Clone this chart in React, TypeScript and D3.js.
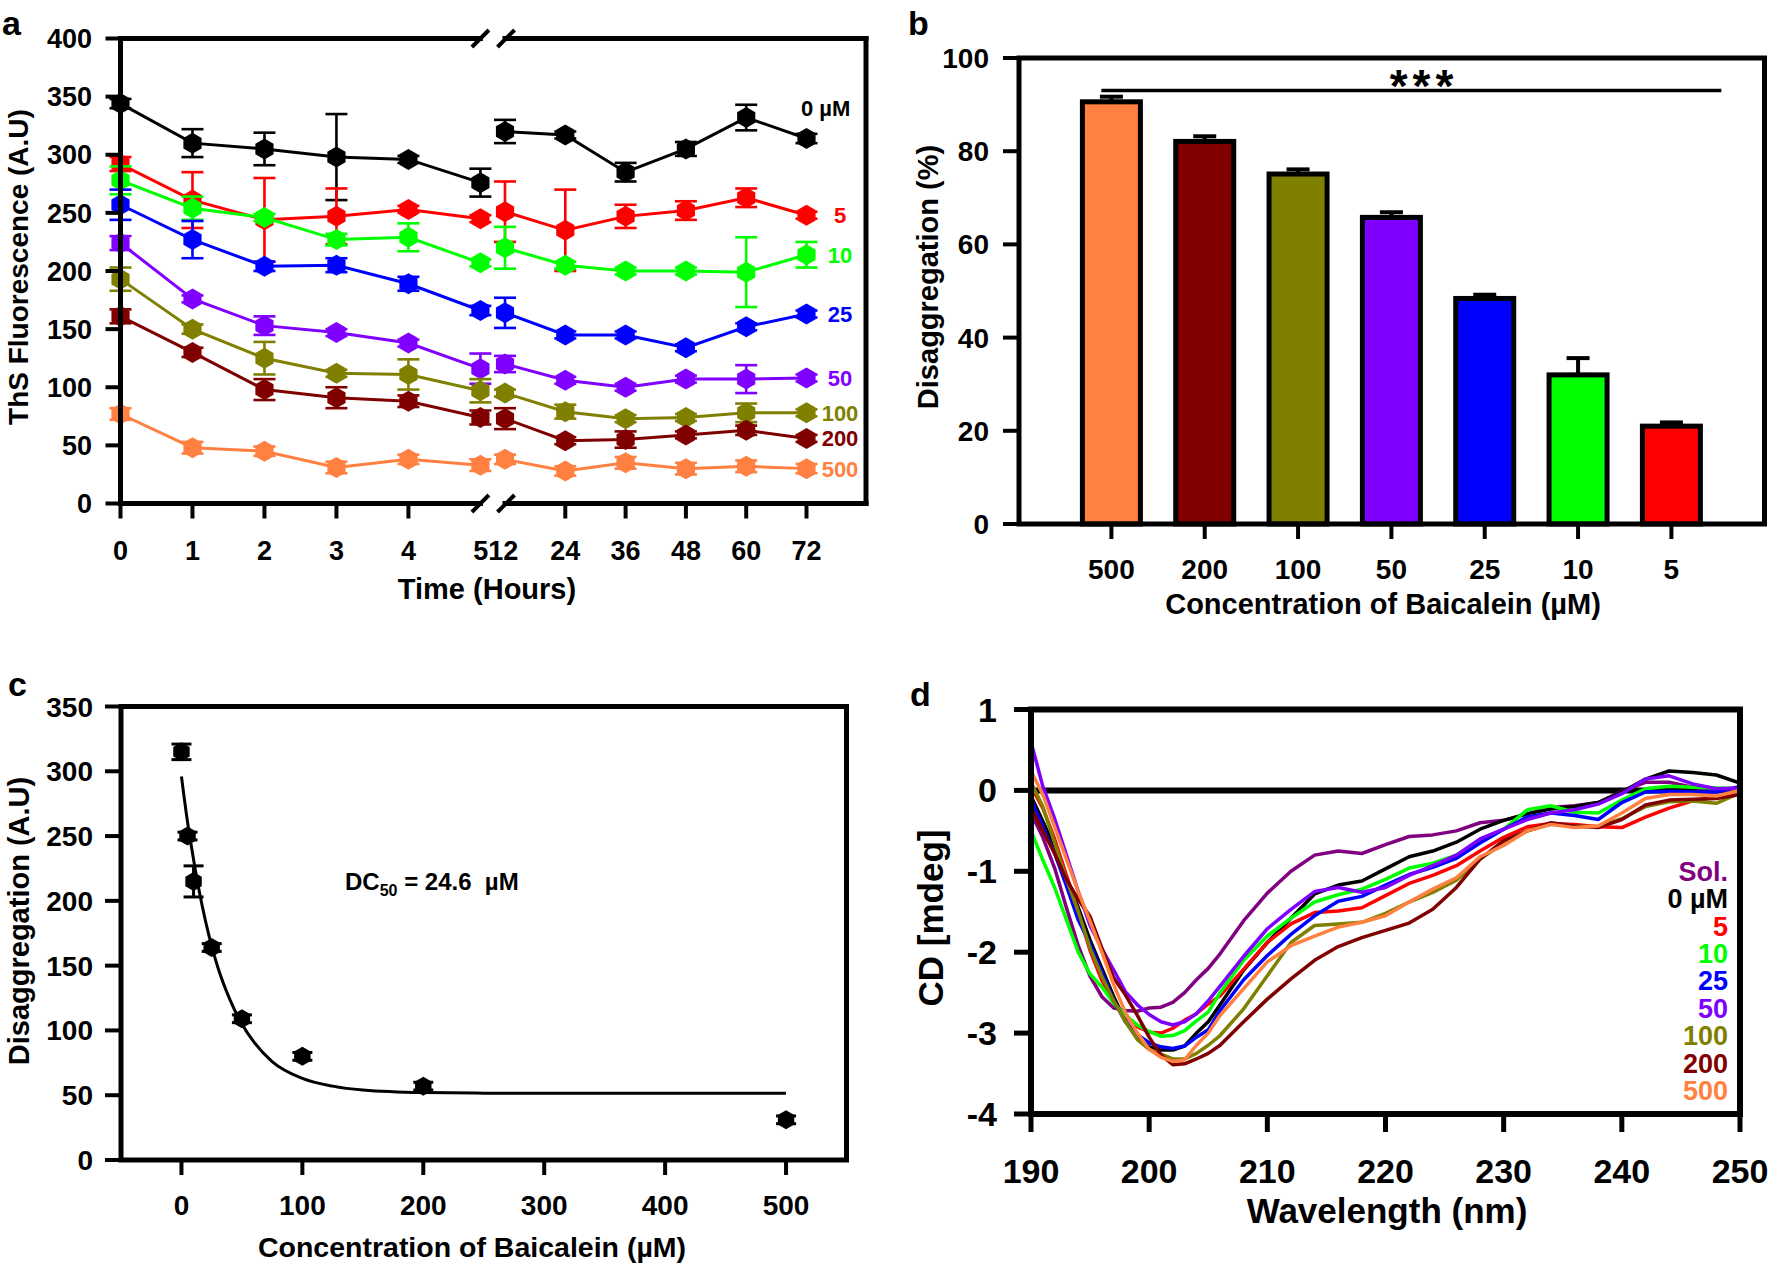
import React from "react";
import * as d3 from "d3";

const FONT = "'Liberation Sans', Arial, Helvetica, sans-serif";

// ---------------- Panel a : ThS fluorescence vs time ----------------
const timeHours = [0, 1, 2, 3, 4, 5, 12, 24, 36, 48, 60, 72];
const timeTickHours = [0, 1, 2, 3, 4, 24, 36, 48, 60, 72];
const fluorTicks = [0, 50, 100, 150, 200, 250, 300, 350, 400];
const concLabelsA = ["0 µM", "5", "10", "25", "50", "100", "200", "500"];
const concColors = ["#000000", "#FF0000", "#00FF00", "#0000FF", "#8000FF", "#808000", "#800000", "#FF8040"];

const ths0 = [344, 310, 305, 298, 296, 276, 320, 317, 285, 305, 332, 314];
const ths0Err = [4, 12, 14, 37, 3, 12, 10, 3, 8, 6, 11, 4];
const ths5 = [292, 261, 244, 247, 253, 245, 251, 235, 247, 252, 263, 248];
const ths5Err = [6, 24, 36, 24, 3, 3, 26, 35, 10, 8, 8, 3];
const ths10 = [278, 254, 246, 227, 229, 207, 220, 205, 200, 200, 199, 214];
const ths10Err = [12, 10, 3, 5, 12, 3, 18, 3, 3, 3, 30, 11];
const ths25 = [257, 227, 204, 205, 189, 166, 164, 145, 145, 134, 152, 163];
const ths25Err = [13, 16, 4, 6, 6, 4, 13, 3, 3, 3, 3, 3];
const ths50 = [224, 176, 153, 147, 138, 116, 120, 106, 100, 107, 107, 108];
const ths50Err = [6, 3, 8, 3, 3, 13, 7, 3, 3, 3, 12, 3];
const ths100 = [193, 150, 125, 112, 111, 97, 95, 79, 73, 74, 78, 78];
const ths100Err = [10, 4, 14, 3, 13, 10, 3, 6, 3, 3, 8, 3];
const ths200 = [161, 130, 98, 91, 88, 74, 73, 54, 55, 59, 63, 56];
const ths200Err = [6, 4, 9, 9, 5, 6, 9, 3, 7, 3, 4, 3];
const ths500 = [77, 48, 45, 31, 38, 33, 38, 28, 35, 30, 32, 30];
const ths500Err = [5, 5, 4, 5, 4, 5, 4, 4, 5, 5, 5, 4];

// ---------------- Panel b : disaggregation bars ----------------
const concB = ["500", "200", "100", "50", "25", "10", "5"];
const disaggPct = [90.6, 82.1, 75.1, 65.8, 48.4, 32.0, 21.0];
const disaggPctErr = [1.1, 1.1, 1.0, 1.1, 0.8, 3.6, 0.8];
const barColors = ["#FF8040", "#800000", "#808000", "#8000FF", "#0000FF", "#00FF00", "#FF0000"];
const pctTicks = [0, 20, 40, 60, 80, 100];

// ---------------- Panel c : dose response ----------------
const concC = [0, 5, 10, 25, 50, 100, 200, 500];
const disaggAU = [315, 250, 215, 164, 109, 80, 57, 31];
const disaggAUErr = [6, 3, 12, 3, 3, 3, 3, 3];
const fitConc = [0, 5, 10, 15, 20, 25, 30, 40, 50, 60, 75, 100, 125, 150, 200, 250, 300, 400, 500];
const fitAU = [296, 261, 232, 206, 184, 165, 149, 124, 105, 91, 76, 63, 57, 54, 52, 51.6, 51.5, 51.5, 51.5];
const concTicksC = [0, 100, 200, 300, 400, 500];
const auTicksC = [0, 50, 100, 150, 200, 250, 300, 350];

// ---------------- Panel d : CD spectra ----------------
const wavelength = [190, 191, 192, 193, 194, 195, 196, 197, 198, 199, 200, 201, 202, 203, 204, 205, 206, 208, 210, 212, 214, 216, 218, 220, 222, 224, 226, 228, 230, 232, 234, 236, 238, 240, 242, 244, 246, 248, 250];
const cdSol = [-0.28, -0.58, -0.96, -1.45, -1.92, -2.30, -2.55, -2.69, -2.72, -2.73, -2.69, -2.68, -2.62, -2.50, -2.34, -2.20, -2.02, -1.61, -1.27, -1.00, -0.80, -0.75, -0.78, -0.67, -0.57, -0.55, -0.50, -0.40, -0.37, -0.29, -0.21, -0.19, -0.15, -0.01, 0.10, 0.10, 0.04, 0.01, 0.00];
const cd0 = [-0.07, -0.38, -0.70, -1.07, -1.45, -1.85, -2.20, -2.55, -2.86, -3.05, -3.17, -3.21, -3.21, -3.16, -3.00, -2.86, -2.65, -2.22, -1.88, -1.58, -1.28, -1.17, -1.12, -0.97, -0.82, -0.75, -0.64, -0.48, -0.37, -0.29, -0.23, -0.20, -0.15, -0.02, 0.14, 0.24, 0.22, 0.19, 0.09];
const cd5 = [0.05, -0.22, -0.60, -1.05, -1.50, -1.98, -2.35, -2.62, -2.80, -2.92, -2.99, -3.00, -2.94, -2.84, -2.76, -2.64, -2.54, -2.21, -1.88, -1.65, -1.51, -1.49, -1.45, -1.30, -1.15, -1.05, -0.93, -0.75, -0.58, -0.45, -0.41, -0.42, -0.45, -0.46, -0.33, -0.22, -0.13, -0.08, -0.03];
const cd10 = [-0.50, -0.86, -1.20, -1.60, -2.00, -2.27, -2.43, -2.63, -2.78, -2.90, -2.98, -3.04, -3.03, -2.97, -2.85, -2.74, -2.50, -2.10, -1.80, -1.58, -1.38, -1.29, -1.22, -1.10, -0.96, -0.90, -0.80, -0.64, -0.48, -0.24, -0.19, -0.27, -0.28, -0.12, 0.02, 0.05, 0.04, 0.03, 0.02];
const cd25 = [-0.11, -0.45, -0.78, -1.18, -1.60, -1.90, -2.25, -2.60, -2.86, -3.02, -3.12, -3.17, -3.19, -3.16, -3.05, -2.96, -2.72, -2.34, -2.04, -1.78, -1.55, -1.37, -1.31, -1.17, -1.04, -0.95, -0.84, -0.65, -0.48, -0.33, -0.28, -0.31, -0.36, -0.15, -0.02, -0.01, -0.02, -0.02, 0.05];
const cd50 = [0.60, 0.05, -0.35, -0.80, -1.25, -1.67, -1.96, -2.22, -2.49, -2.65, -2.77, -2.86, -2.90, -2.86, -2.76, -2.60, -2.42, -2.05, -1.71, -1.47, -1.25, -1.20, -1.26, -1.20, -1.05, -0.93, -0.80, -0.60, -0.48, -0.36, -0.28, -0.24, -0.17, -0.04, 0.14, 0.18, 0.08, 0.02, 0.03];
const cd100 = [0.10, -0.20, -0.65, -1.10, -1.50, -1.95, -2.30, -2.60, -2.86, -3.08, -3.20, -3.26, -3.32, -3.32, -3.25, -3.15, -3.03, -2.70, -2.29, -1.88, -1.67, -1.65, -1.63, -1.52, -1.38, -1.26, -1.11, -0.85, -0.65, -0.50, -0.42, -0.44, -0.45, -0.35, -0.20, -0.14, -0.13, -0.16, -0.03];
const cd200 = [-0.21, -0.50, -0.78, -1.10, -1.35, -1.56, -1.95, -2.32, -2.53, -2.78, -3.05, -3.27, -3.39, -3.38, -3.32, -3.25, -3.15, -2.86, -2.58, -2.33, -2.10, -1.93, -1.82, -1.73, -1.64, -1.47, -1.20, -0.85, -0.62, -0.50, -0.40, -0.44, -0.46, -0.36, -0.18, -0.12, -0.11, -0.10, -0.05];
const cd500 = [0.24, -0.05, -0.45, -0.85, -1.25, -1.62, -2.00, -2.40, -2.75, -3.00, -3.20, -3.30, -3.35, -3.33, -3.15, -3.00, -2.78, -2.45, -2.12, -1.92, -1.80, -1.69, -1.63, -1.55, -1.38, -1.22, -1.08, -0.82, -0.68, -0.50, -0.42, -0.46, -0.44, -0.28, -0.10, -0.05, -0.05, -0.07, 0.00];
const cdLabels = ["Sol.", "0 µM", "5", "10", "25", "50", "100", "200", "500"];
const cdColors = ["#800080", "#000000", "#FF0000", "#00FF00", "#0000FF", "#8000FF", "#808000", "#800000", "#FF8040"];
const wlTicks = [190, 200, 210, 220, 230, 240, 250];
const cdTicks = [-4, -3, -2, -1, 0, 1];

// ------------------------------------------------------------
const seriesA = [
  { v: ths0, e: ths0Err }, { v: ths5, e: ths5Err }, { v: ths10, e: ths10Err }, { v: ths25, e: ths25Err },
  { v: ths50, e: ths50Err }, { v: ths100, e: ths100Err }, { v: ths200, e: ths200Err }, { v: ths500, e: ths500Err },
].map((s, i) => ({ ...s, label: concLabelsA[i], color: concColors[i] }));

const cdSeries = [cdSol, cd0, cd5, cd10, cd25, cd50, cd100, cd200, cd500].map((v, i) => ({ v, label: cdLabels[i], color: cdColors[i] }));

const hexPath = (r: number) =>
  d3.line()(d3.range(6).map((i) => {
    const a = -Math.PI / 2 + (i * Math.PI) / 3;
    return [r * Math.cos(a), r * Math.sin(a)] as [number, number];
  }))! + "Z";

function ErrBar({ x, y1, y2, w, color, sw }: any) {
  return (
    <g stroke={color} strokeWidth={sw}>
      <line x1={x} x2={x} y1={y1} y2={y2} />
      <line x1={x - w / 2} x2={x + w / 2} y1={y1} y2={y1} />
      <line x1={x - w / 2} x2={x + w / 2} y1={y2} y2={y2} />
    </g>
  );
}

function PanelA() {
  const L = 120.5, R = 866, T = 38.5, B = 503.5;
  const brk1 = 480.4, brk2 = 505;
  const yA = d3.scaleLinear().domain([0, 400]).range([B, T]);
  const xA1 = d3.scaleLinear().domain([0, 5]).range([L, brk1]);
  const xA2 = d3.scaleLinear().domain([12, 72]).range([brk2, 806.5]);
  const xA = (t: number) => (t <= 5 ? xA1(t) : xA2(t));
  const line = d3.line<number>().x((_, i) => xA(timeHours[i])).y((d) => yA(d));
  const hex = hexPath(10.5);
  const sw = 5;
  return (
    <g>
      <text x={2} y={35} fontSize={34}>a</text>
      {seriesA.map((s, si) => {
        const seg1 = s.v.slice(0, 6);
        const seg2 = s.v.slice(6);
        const line2 = d3.line<number>().x((_, i) => xA(timeHours[i + 6])).y((d) => yA(d));
        return (
          <g key={si}>
            <path d={line(seg1)!} fill="none" stroke={s.color} strokeWidth={3} />
            <path d={line2(seg2)!} fill="none" stroke={s.color} strokeWidth={3} />
            {s.v.map((v, i) => (
              <ErrBar key={"e" + i} x={xA(timeHours[i])} y1={yA(v + s.e[i])} y2={yA(v - s.e[i])} w={22} color={s.color} sw={2.6} />
            ))}
            {s.v.map((v, i) => (
              <path key={"m" + i} d={hex} transform={`translate(${xA(timeHours[i])},${yA(v)})`} fill={s.color} />
            ))}
            {si === 0 ? (
              <text x={801} y={yA(340.6) + 8} fontSize={22} fill={s.color}>{s.label}</text>
            ) : (
              <text x={840} y={yA(s.v[s.v.length - 1]) + 8} fontSize={22} fill={s.color} textAnchor="middle">{s.label}</text>
            )}
          </g>
        );
      })}
      <g stroke="#000" strokeWidth={sw} strokeLinecap="square" fill="none">
        <line x1={L} x2={L} y1={T} y2={B} />
        <line x1={R} x2={R} y1={T} y2={B} />
        <line x1={L} x2={brk1} y1={T} y2={T} />
        <line x1={brk2} x2={R} y1={T} y2={T} />
        <line x1={L} x2={brk1} y1={B} y2={B} />
        <line x1={brk2} x2={R} y1={B} y2={B} />
      </g>
      <g stroke="#000" strokeWidth={4}>
        {[T, B].map((y) => [brk1, brk2 + 1].map((x) => (
          <line key={`${x}-${y}`} x1={x - 8.5} x2={x + 8.5} y1={y + 8.5} y2={y - 8.5} />
        )))}
      </g>
      {fluorTicks.map((t) => (
        <g key={t}>
          <line x1={L - 15} x2={L} y1={yA(t)} y2={yA(t)} stroke="#000" strokeWidth={4} />
          <text x={92} y={yA(t) + 9.7} fontSize={27} textAnchor="end">{t}</text>
        </g>
      ))}
      {timeTickHours.map((t) => (
        <g key={t}>
          <line x1={xA(t)} x2={xA(t)} y1={B} y2={B + 15} stroke="#000" strokeWidth={4} />
          <text x={xA(t)} y={560} fontSize={27} textAnchor="middle">{t}</text>
        </g>
      ))}
      <text x={(xA(5) + xA(12)) / 2 + 3} y={560} fontSize={27} textAnchor="middle">{`${timeHours[5]}${timeHours[6]}`}</text>
      <text x={487} y={599} fontSize={29} textAnchor="middle">Time (Hours)</text>
      <text transform={`translate(28,267) rotate(-90)`} fontSize={28} textAnchor="middle">ThS Fluorescence (A.U)</text>
    </g>
  );
}

function PanelB() {
  const L = 1019, R = 1764.5, T = 58, B = 524;
  const yB = d3.scaleLinear().domain([0, 100]).range([B, T]);
  const xB = d3.scalePoint<string>().domain(concB).range([1111.4, 1671.4]);
  const bw = 58;
  return (
    <g>
      <text x={908} y={35} fontSize={34}>b</text>
      {concB.map((c, i) => {
        const x = xB(c)!;
        const v = disaggPct[i];
        return (
          <g key={c}>
            <ErrBar x={x} y1={yB(v + disaggPctErr[i])} y2={yB(v)} w={23} color="#000" sw={4} />
            <rect x={x - bw / 2} y={yB(v)} width={bw} height={B - yB(v)} fill={barColors[i]} stroke="#000" strokeWidth={5} />
          </g>
        );
      })}
      <line x1={xB("500")! - 10} x2={xB("5")! + 50} y1={yB(93) + 4} y2={yB(93) + 4} stroke="#c8c8c8" strokeWidth={4} filter="url(#blurShadow)" />
      <line x1={xB("500")! - 10} x2={xB("5")! + 50} y1={yB(93)} y2={yB(93)} stroke="#000" strokeWidth={3.5} />
      <text x={1424} y={102} fontSize={46} textAnchor="middle" letterSpacing={5}>***</text>
      <rect x={L} y={T} width={R - L} height={B - T} fill="none" stroke="#000" strokeWidth={5} />
      {pctTicks.map((t) => (
        <g key={t}>
          <line x1={L - 16} x2={L} y1={yB(t)} y2={yB(t)} stroke="#000" strokeWidth={4} />
          <text x={989} y={yB(t) + 10} fontSize={28} textAnchor="end">{t}</text>
        </g>
      ))}
      {concB.map((c) => (
        <g key={c}>
          <line x1={xB(c)!} x2={xB(c)!} y1={B} y2={B + 15} stroke="#000" strokeWidth={4} />
          <text x={xB(c)!} y={579} fontSize={28} textAnchor="middle">{c}</text>
        </g>
      ))}
      <text x={1383} y={614} fontSize={29} textAnchor="middle">Concentration of Baicalein (µM)</text>
      <text transform={`translate(938,277) rotate(-90)`} fontSize={29} textAnchor="middle">Disaggregation (%)</text>
    </g>
  );
}

function PanelC() {
  const L = 121, R = 846.5, T = 706.5, B = 1160;
  const xC = d3.scaleLinear().domain([-50, 550]).range([L, R]);
  const yC = d3.scaleLinear().domain([0, 350]).range([B, T]);
  const fit = d3.line<number>().x((_, i) => xC(fitConc[i])).y((d) => yC(d)).curve(d3.curveMonotoneX);
  const hex = hexPath(9.5);
  return (
    <g>
      <text x={8} y={696} fontSize={34}>c</text>
      <path d={fit(fitAU)!} fill="none" stroke="#000" strokeWidth={3} />
      {concC.map((c, i) => (
        <g key={c}>
          <ErrBar x={xC(c)} y1={yC(disaggAU[i] + disaggAUErr[i])} y2={yC(disaggAU[i] - disaggAUErr[i])} w={20} color="#000" sw={3} />
          <path d={hex} transform={`translate(${xC(c)},${yC(disaggAU[i])})`} fill="#000" />
        </g>
      ))}
      <text x={345} y={890} fontSize={24}>
        DC<tspan fontSize={16} dy={6}>50</tspan><tspan dy={-6}>{" = 24.6\u00a0\u00a0µM"}</tspan>
      </text>
      <rect x={L} y={T} width={R - L} height={B - T} fill="none" stroke="#000" strokeWidth={5} />
      {auTicksC.map((t) => (
        <g key={t}>
          <line x1={L - 16} x2={L} y1={yC(t)} y2={yC(t)} stroke="#000" strokeWidth={4} />
          <text x={93} y={yC(t) + 10} fontSize={28} textAnchor="end">{t}</text>
        </g>
      ))}
      {concTicksC.map((t) => (
        <g key={t}>
          <line x1={xC(t)} x2={xC(t)} y1={B} y2={B + 15} stroke="#000" strokeWidth={4} />
          <text x={xC(t)} y={1215} fontSize={28} textAnchor="middle">{t}</text>
        </g>
      ))}
      <text x={472} y={1257} fontSize={28.5} textAnchor="middle">Concentration of Baicalein (µM)</text>
      <text transform={`translate(29,921) rotate(-90)`} fontSize={29} textAnchor="middle">Disaggregation (A.U)</text>
    </g>
  );
}

function PanelD() {
  const L = 1031, R = 1740, T = 709.5, B = 1114;
  const xD = d3.scaleLinear().domain([190, 250]).range([L, R]);
  const yD = d3.scaleLinear().domain([-4, 1]).range([B, T]);
  const line = d3.line<number>().x((_, i) => xD(wavelength[i])).y((d) => yD(d));
  return (
    <g>
      <text x={910} y={706} fontSize={34}>d</text>
      <defs>
        <clipPath id="clipD"><rect x={L} y={T} width={R - L} height={B - T} /></clipPath>
      </defs>
      <line x1={L} x2={R} y1={yD(0)} y2={yD(0)} stroke="#000" strokeWidth={6} />
      <g clipPath="url(#clipD)">
        {cdSeries.map((s, i) => (
          <path key={i} d={line(s.v)!} fill="none" stroke={s.color} strokeWidth={3.5} strokeLinejoin="round" />
        ))}
      </g>
      {cdSeries.map((s, i) => (
        <text key={i} x={1728} y={871 + i * 27.4 + 9.7} fontSize={27} fill={s.color} textAnchor="end">{s.label}</text>
      ))}
      <rect x={L} y={T} width={R - L} height={B - T} fill="none" stroke="#000" strokeWidth={6} />
      {cdTicks.map((t) => (
        <g key={t}>
          <line x1={L - 17} x2={L} y1={yD(t)} y2={yD(t)} stroke="#000" strokeWidth={5} />
          <text x={997} y={yD(t) + 12} fontSize={34} textAnchor="end">{String(t)}</text>
        </g>
      ))}
      {wlTicks.map((t) => (
        <g key={t}>
          <line x1={xD(t)} x2={xD(t)} y1={B} y2={B + 18} stroke="#000" strokeWidth={5} />
          <text x={xD(t)} y={1183} fontSize={34} textAnchor="middle">{t}</text>
        </g>
      ))}
      <text x={1387} y={1223} fontSize={35} textAnchor="middle">Wavelength (nm)</text>
      <text transform={`translate(943,918) rotate(-90)`} fontSize={35} textAnchor="middle">CD [mdeg]</text>
    </g>
  );
}

export default function App() {
  React.useEffect(() => {
    document.body.style.margin = "0";
  }, []);
  return (
    <svg
      width={1776}
      height={1268}
      viewBox="0 0 1776 1268"
      style={{ display: "block", position: "absolute", left: 0, top: 0, background: "#fff" }}
      fontFamily={FONT}
      fontWeight="bold"
    >
      <defs>
        <filter id="blurShadow" x="-5%" y="-200%" width="110%" height="500%">
          <feGaussianBlur stdDeviation="2" />
        </filter>
      </defs>
      <rect x={0} y={0} width={1776} height={1268} fill="#fff" />
      <PanelA />
      <PanelB />
      <PanelC />
      <PanelD />
    </svg>
  );
}
